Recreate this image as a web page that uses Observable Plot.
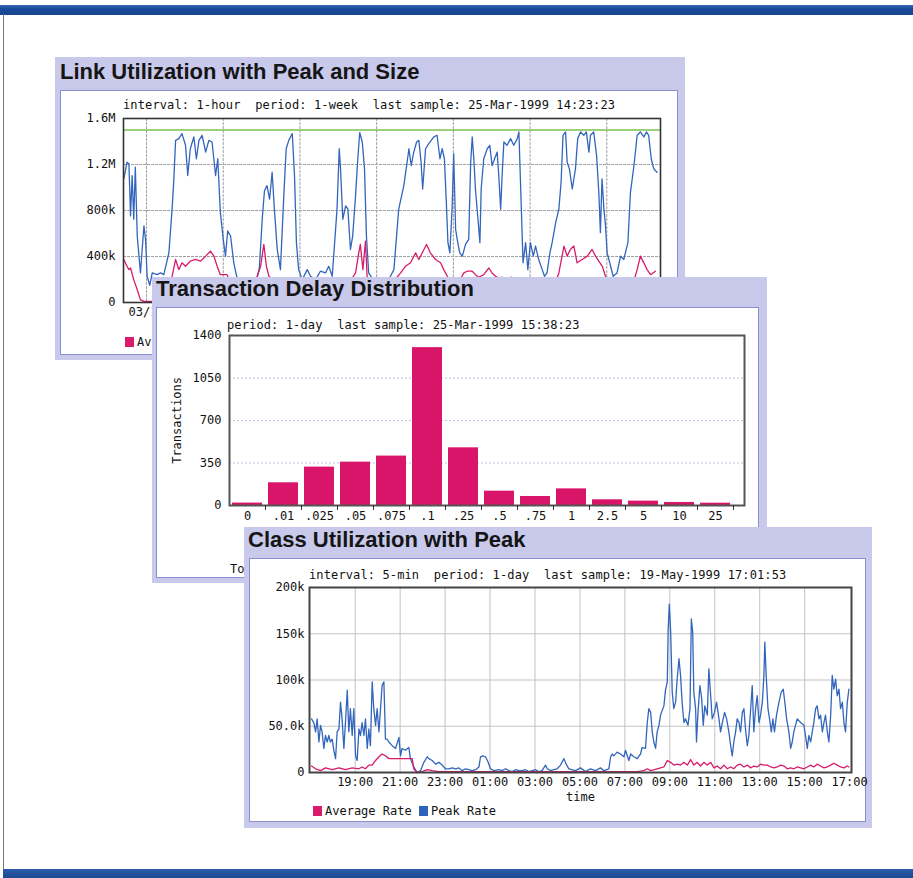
<!DOCTYPE html>
<html><head><meta charset="utf-8">
<script src="https://cdn.jsdelivr.net/npm/d3@7"></script>
<script src="https://cdn.jsdelivr.net/npm/@observablehq/plot@0.6"></script>
<style>
html,body{margin:0;padding:0;background:#fff;}
#page{position:relative;width:913px;height:878px;overflow:hidden;background:#fff;}
.bar-top{position:absolute;left:0;top:5px;width:913px;height:10px;background:linear-gradient(#3d69b6,#1b4a9c 35%,#19468f);}
.bar-bottom{position:absolute;left:3px;top:869px;width:910px;height:9px;background:linear-gradient(#2b5ca8,#1b4a92);}
.edge-left{position:absolute;left:3px;top:14px;width:1px;height:856px;background:#777;}
.panel{position:absolute;background:#c9c9ec;}
.inner{position:absolute;background:#fff;border:1.5px solid #8c8ed2;box-sizing:border-box;}
.title{position:absolute;font:bold 22px "Liberation Sans",Arial,sans-serif;color:#151515;line-height:22px;white-space:nowrap;}
.sub{position:absolute;font:12px "DejaVu Sans Mono",monospace;white-space:pre;line-height:12px;color:#111;letter-spacing:0.12px;}
.chart{position:absolute;}
.chart svg{background:transparent !important;}
.leg{position:absolute;font:12px "DejaVu Sans Mono",monospace;white-space:pre;line-height:12px;display:flex;align-items:center;color:#111;}
.sw{display:inline-block;width:9px;height:10px;margin-right:3px;}
</style></head>
<body>
<div id="page">
  <div class="bar-top"></div>
  <div class="edge-left"></div>
  <div class="bar-bottom"></div>

  <div class="panel" style="left:55px;top:57px;width:630px;height:303px;">
    <div class="inner" style="left:5px;top:33px;width:618px;height:265px;"></div>
    <div class="title" style="left:5px;top:4px;">Link Utilization with Peak and Size</div>
    <div class="chart" id="c1" style="left:5px;top:33px;"></div>
    <div class="sub" style="left:68px;top:42px;">interval: 1-hour  period: 1-week  last sample: 25-Mar-1999 14:23:23</div>
    <div class="leg" style="left:70px;top:279px;"><span class="sw" style="background:#d81b6a"></span>Average Rate</div>
  </div>

  <div class="panel" style="left:152px;top:277px;width:615px;height:306px;">
    <div class="inner" style="left:4px;top:30px;width:603px;height:271px;"></div>
    <div class="title" style="left:4px;top:1px;">Transaction Delay Distribution</div>
    <div class="chart" id="c2" style="left:4px;top:30px;"></div>
    <div class="sub" style="left:75px;top:42px;">period: 1-day  last sample: 25-Mar-1999 15:38:23</div>
    <div class="sub" style="left:78px;top:286px;">Total</div>
  </div>

  <div class="panel" style="left:244px;top:527px;width:628px;height:301px;">
    <div class="inner" style="left:5px;top:31px;width:617px;height:264px;"></div>
    <div class="title" style="left:4px;top:2px;">Class Utilization with Peak</div>
    <div class="chart" id="c3" style="left:5px;top:31px;"></div>
    <div class="sub" style="left:65px;top:42px;">interval: 5-min  period: 1-day  last sample: 19-May-1999 17:01:53</div>
    <div class="leg" style="left:69px;top:278px;"><span class="sw" style="background:#d81b6a"></span>Average Rate <span class="sw" style="background:#2d63b8"></span>Peak Rate</div>
  </div>
</div>
<script>
// ---------- Panel 1: Link Utilization (hours since start, value in k) ----------
const p1Start = "1999-03-18T16:48:00Z";
const p1End = "1999-03-25T16:48:00Z";
const p1YTicks = [0, 400, 800, 1200, 1600];
const p1YLabels = ["0", "400k", "800k", "1.2M", "1.6M"];
const p1DayTicks = ["1999-03-19","1999-03-20","1999-03-21","1999-03-22","1999-03-23","1999-03-24","1999-03-25"];
const p1Size = 1500;
const p1Peak = [[0.1,1075],[1.1,1220],[1.7,1206],[2.2,753],[2.7,1104],[3.2,724],[3.7,1177],[4.3,578],[5.3,257],[6.4,666],[6.9,549],[7.4,228],[8.2,150],[9.0,257],[10.5,242],[11.6,257],[12.6,242],[14.2,432],[15.2,812],[15.7,1045],[16.3,1410],[17.3,1425],[18.3,1469],[19.4,1367],[20.1,1104],[20.9,1337],[22.0,1440],[22.8,1250],[23.6,1410],[24.6,1454],[25.7,1308],[26.7,1410],[27.7,1396],[28.8,1104],[29.5,1250],[30.3,783],[31.2,549],[31.9,403],[32.6,622],[33.5,578],[34.5,345],[35.4,228],[36.5,150],[37.5,120],[38.5,200],[39.5,160],[40.5,130],[41.5,180],[42.5,300],[43.4,724],[44.1,972],[44.9,1016],[45.7,899],[46.5,1133],[47.2,812],[48.1,461],[49.1,286],[50.2,958],[50.9,1337],[51.7,1410],[52.8,1469],[53.5,1104],[54.1,520],[54.8,286],[55.9,199],[57.5,286],[58.5,228],[60.1,199],[61.6,272],[63.2,257],[64.2,315],[65.3,228],[66.8,812],[67.5,1337],[67.9,1162],[68.6,724],[69.5,841],[70.2,812],[71.0,461],[71.7,578],[72.6,929],[73.3,1250],[73.9,1478],[74.7,1396],[75.4,1162],[76.0,578],[76.7,257],[78.0,200],[79.0,150],[80.0,180],[81.0,140],[82.0,160],[83.5,228],[84.6,286],[86.1,812],[87.7,1016],[89.3,1337],[90.0,1191],[90.8,1308],[91.7,1396],[92.4,1410],[93.1,1220],[93.6,987],[94.5,1337],[95.5,1381],[97.1,1440],[98.1,1454],[99.0,1250],[99.7,1337],[100.4,1250],[101.0,870],[101.5,520],[102.1,432],[102.8,812],[103.3,1294],[103.9,637],[104.4,549],[105.2,432],[106.0,403],[107.0,505],[108.0,549],[108.6,1206],[109.1,1440],[109.6,1250],[110.1,987],[110.9,724],[111.5,520],[111.9,987],[112.7,1250],[113.8,1337],[114.6,1367],[115.3,1191],[116.1,1250],[116.9,1308],[117.4,1104],[118.0,812],[118.5,1133],[119.0,1396],[120.0,1367],[121.1,1425],[122.1,1367],[123.2,1425],[123.7,1483],[124.4,870],[125.0,345],[125.8,520],[126.5,286],[127.3,520],[128.2,403],[128.9,491],[129.9,374],[131.0,286],[131.7,228],[132.5,257],[133.4,432],[134.1,520],[135.2,695],[136.2,812],[136.9,1045],[137.5,1454],[138.3,1483],[138.8,1220],[139.5,1162],[140.4,987],[141.4,1162],[142.1,1425],[143.0,1483],[144.0,1454],[144.8,1483],[145.6,1308],[146.1,1454],[147.1,1483],[148.0,1279],[148.7,958],[149.2,607],[149.7,1075],[150.3,812],[150.8,666],[151.3,432],[152.4,315],[153.2,228],[154.4,257],[155.5,403],[156.5,374],[157.8,520],[158.6,958],[159.7,1191],[160.7,1454],[161.7,1483],[162.8,1440],[163.6,1483],[164.3,1454],[165.1,1250],[165.9,1162],[166.9,1133]];
const p1Avg = [[0.1,374],[1.1,315],[1.7,286],[2.2,300],[3.2,199],[4.3,111],[5.3,23],[6.4,9],[8.4,9],[9.5,10],[10.5,10],[11.5,20],[12.5,30],[13.5,60],[14.5,100],[15.2,228],[16.3,374],[17.3,286],[18.3,345],[19.4,315],[20.9,359],[22.5,374],[24.1,359],[25.7,403],[27.2,447],[28.3,403],[29.3,315],[30.3,242],[31.4,242],[32.4,242],[33.5,150],[34.5,100],[35.5,60],[36.5,40],[37.5,30],[38.5,40],[39.5,80],[40.5,150],[41.5,200],[42.9,315],[43.9,505],[44.7,315],[45.5,228],[46.5,200],[47.5,180],[48.5,150],[49.5,120],[50.5,150],[51.5,200],[52.5,210],[53.5,190],[54.5,150],[55.5,100],[56.5,60],[57.5,40],[58.5,30],[59.5,30],[60.5,40],[61.5,50],[62.5,60],[63.5,70],[64.5,80],[65.5,100],[66.5,150],[67.5,200],[68.5,190],[69.5,180],[70.5,200],[71.5,210],[72.6,257],[73.6,432],[74.1,505],[74.9,286],[75.7,534],[76.2,228],[77.0,150],[78.0,100],[79.0,60],[80.0,40],[81.0,30],[82.0,40],[83.0,60],[84.0,120],[85.0,200],[86.7,257],[88.2,315],[89.8,345],[91.4,432],[92.4,374],[94.0,461],[94.8,505],[96.0,432],[97.6,374],[99.2,345],[100.2,286],[101.3,228],[102.3,180],[103.3,150],[104.3,170],[105.3,200],[106.5,257],[107.5,272],[109.1,272],[110.1,242],[111.2,220],[112.7,242],[114.3,300],[115.3,257],[116.4,228],[117.5,210],[118.5,220],[119.5,200],[120.5,210],[121.5,220],[122.5,200],[123.5,190],[124.5,150],[125.5,100],[126.5,60],[127.5,40],[128.5,30],[129.5,30],[130.5,40],[131.5,60],[132.5,80],[133.5,120],[134.5,160],[135.5,200],[136.2,257],[136.9,359],[137.8,491],[138.8,403],[139.8,461],[140.9,491],[141.9,345],[143.5,374],[145.1,403],[146.6,461],[147.7,403],[148.7,359],[149.8,315],[150.8,228],[151.8,180],[152.8,120],[153.8,80],[154.8,50],[155.8,40],[156.8,60],[157.8,100],[158.8,150],[159.8,200],[160.7,286],[161.7,403],[162.8,345],[163.8,286],[164.9,242],[166.4,272]];

// ---------- Panel 2: Transaction Delay Distribution ----------
const delayBins = ["0", ".01", ".025", ".05", ".075", ".1", ".25", ".5", ".75", "1", "2.5", "5", "10", "25"];
const delayCounts = [20, 187, 316, 357, 407, 1300, 475, 118, 74, 137, 47, 36, 25, 19];
const p2YTicks = [0, 350, 700, 1050, 1400];

// ---------- Panel 3: Class Utilization (hours since start, value in k) ----------
const p3Start = "1999-05-18T16:58:00Z";
const p3End = "1999-05-19T17:05:00Z";
const p3XTicks = ["1999-05-18T19:00Z","1999-05-18T21:00Z","1999-05-18T23:00Z","1999-05-19T01:00Z","1999-05-19T03:00Z","1999-05-19T05:00Z","1999-05-19T07:00Z","1999-05-19T09:00Z","1999-05-19T11:00Z","1999-05-19T13:00Z","1999-05-19T15:00Z","1999-05-19T17:00Z"];
const p3YTicks = [0, 50, 100, 150, 200];
const p3YLabels = ["0", "50.0k", "100k", "150k", "200k"];
const p3Peak = [[0.09,58],[0.19,54],[0.27,44],[0.34,58],[0.42,33],[0.49,51],[0.56,44],[0.64,26],[0.71,40],[0.79,33],[0.86,40],[0.93,33],[1.01,36],[1.08,24],[1.16,15],[1.23,44],[1.31,47],[1.38,76],[1.45,58],[1.53,26],[1.60,54],[1.68,89],[1.75,44],[1.82,69],[1.90,40],[1.97,69],[2.05,18],[2.12,13],[2.20,47],[2.27,40],[2.34,54],[2.42,40],[2.49,58],[2.57,26],[2.64,47],[2.71,29],[2.79,98],[2.86,69],[2.94,51],[3.01,69],[3.09,44],[3.16,69],[3.23,94],[3.31,98],[3.38,36],[3.46,36],[3.53,33],[3.68,29],[3.83,26],[3.98,38],[4.05,18],[4.12,26],[4.27,24],[4.42,27],[4.49,15],[4.64,6],[4.79,0],[4.94,2],[5.09,11],[5.24,17],[5.31,15],[5.46,13],[5.61,9],[5.76,11],[5.90,8],[6.05,4],[6.20,4],[6.35,5],[6.50,4],[6.65,5],[6.79,2],[6.94,4],[7.09,3],[7.24,2],[7.39,3],[7.54,6],[7.61,17],[7.71,18],[7.83,17],[7.95,11],[8.05,4],[8.20,2],[8.43,3],[8.57,2],[8.72,4],[8.87,2],[9.02,1],[9.17,3],[9.32,2],[9.46,2],[9.61,3],[9.76,1],[9.91,2],[10.06,3],[10.21,1],[10.35,2],[10.50,8],[10.58,4],[10.73,2],[10.87,3],[11.02,4],[11.17,8],[11.32,15],[11.42,9],[11.54,4],[11.84,2],[12.06,5],[12.28,1],[12.50,4],[12.73,2],[12.95,5],[13.10,2],[13.32,4],[13.40,17],[13.47,20],[13.54,18],[13.69,22],[13.84,20],[13.99,17],[14.06,24],[14.21,13],[14.29,20],[14.43,17],[14.58,15],[14.73,20],[14.80,27],[14.95,26],[15.03,54],[15.10,69],[15.18,65],[15.25,44],[15.32,33],[15.40,26],[15.47,44],[15.55,51],[15.62,62],[15.77,72],[15.84,89],[15.92,98],[15.96,155],[16.01,182],[16.07,152],[16.14,87],[16.21,69],[16.29,76],[16.36,101],[16.44,123],[16.51,105],[16.58,76],[16.66,54],[16.73,58],[16.84,51],[16.93,69],[16.99,166],[17.05,152],[17.10,87],[17.18,69],[17.22,33],[17.28,62],[17.37,94],[17.45,80],[17.52,51],[17.59,72],[17.70,62],[17.77,112],[17.85,83],[17.92,58],[18.02,65],[18.11,76],[18.22,58],[18.29,44],[18.37,54],[18.47,65],[18.56,58],[18.66,44],[18.74,29],[18.81,18],[18.88,33],[18.96,44],[19.03,58],[19.11,54],[19.18,44],[19.26,65],[19.33,69],[19.40,47],[19.48,29],[19.55,40],[19.63,69],[19.70,94],[19.77,44],[19.85,69],[19.92,83],[20.00,54],[20.07,62],[20.15,76],[20.22,105],[20.26,141],[20.32,105],[20.40,69],[20.47,58],[20.55,44],[20.62,58],[20.69,44],[20.78,62],[20.89,76],[20.99,87],[21.08,90],[21.15,76],[21.23,58],[21.33,44],[21.41,26],[21.48,33],[21.55,44],[21.70,58],[21.85,54],[22.00,51],[22.07,40],[22.15,26],[22.22,40],[22.30,33],[22.37,44],[22.44,54],[22.52,69],[22.59,72],[22.67,58],[22.74,62],[22.82,44],[22.89,54],[22.96,62],[23.04,44],[23.11,33],[23.19,62],[23.26,105],[23.33,90],[23.41,101],[23.48,83],[23.56,90],[23.63,69],[23.71,76],[23.78,54],[23.85,44],[23.93,76],[24.00,90]];
const p3Avg = [[0.09,7],[0.27,4],[0.49,2],[0.71,5],[1.01,3],[1.31,5],[1.60,3],[1.90,5],[2.20,4],[2.34,6],[2.49,4],[2.64,8],[2.79,8],[2.94,13],[3.09,17],[3.23,20],[3.38,18],[3.53,15],[3.83,15],[4.12,15],[4.42,15],[4.57,15],[4.64,4],[4.79,0],[5.01,1],[5.24,3],[5.46,2],[5.76,1],[7.0,1],[8.5,1],[10.0,1],[11.62,1],[13.10,1],[14.58,1],[14.88,2],[15.03,4],[15.18,2],[15.47,4],[15.77,6],[15.92,13],[16.07,11],[16.21,8],[16.36,9],[16.51,8],[16.66,11],[16.81,8],[16.96,14],[17.10,8],[17.25,11],[17.40,7],[17.55,11],[17.70,8],[17.85,11],[18.00,5],[18.14,7],[18.29,4],[18.44,8],[18.59,4],[18.74,6],[18.88,4],[19.03,8],[19.18,9],[19.33,6],[19.48,8],[19.63,5],[19.77,7],[19.92,6],[20.07,9],[20.22,8],[20.37,8],[20.52,6],[20.67,5],[20.81,6],[20.96,8],[21.11,7],[21.26,4],[21.41,5],[21.55,4],[21.70,6],[21.85,5],[22.00,4],[22.15,6],[22.30,8],[22.44,6],[22.59,9],[22.74,7],[22.89,5],[23.04,6],[23.19,8],[23.33,10],[23.48,8],[23.63,6],[23.78,5],[23.93,7],[24.00,6]];

// ---------- colours ----------
const PINK = "#d81b6a", BLUE = "#3266bd", GREEN = "#7dc04f", BAR = "#d9156a";
const FONT = {fontFamily: "'DejaVu Sans Mono', monospace", fontSize: "12px", color: "#111", background: "transparent", overflow: "visible"};

const at = (start, h) => new Date(+new Date(start) + h * 3600000);
const fmtMap = (ticks, labels) => { const m = new Map(ticks.map((t, i) => [t, labels[i]])); return d => m.get(d); };

// Panel 1
const c1 = Plot.plot({
  width: 618, height: 265, marginLeft: 63, marginRight: 18, marginTop: 28, marginBottom: 53,
  style: FONT,
  x: {type: "utc", domain: [new Date(p1Start), new Date(p1End)]},
  y: {domain: [0, 1600]},
  marks: [
    Plot.gridX(p1DayTicks.map(d => new Date(d)), {stroke: "#a0a0a0", strokeOpacity: 1, strokeDasharray: "3,1"}),
    Plot.gridY(p1YTicks.slice(1, -1), {stroke: "#a0a0a0", strokeOpacity: 1, strokeDasharray: "3,1"}),
    Plot.ruleY([p1Size], {stroke: GREEN, strokeWidth: 1.6}),
    Plot.line(p1Peak, {x: d => at(p1Start, d[0]), y: d => d[1], stroke: BLUE, strokeWidth: 1.3}),
    Plot.line(p1Avg, {x: d => at(p1Start, d[0]), y: d => d[1], stroke: PINK, strokeWidth: 1.3}),
    Plot.frame({stroke: "#333", strokeWidth: 1.6}),
    Plot.axisY(p1YTicks, {tickSize: 0, tickPadding: 8, tickFormat: fmtMap(p1YTicks, p1YLabels), label: null}),
    Plot.axisX(p1DayTicks.slice(0, 1).map(d => new Date(d)), {tickSize: 0, tickPadding: 5, tickFormat: d3.utcFormat("%m/%d"), label: null})
  ]
});
document.getElementById("c1").append(c1);

// Panel 2
const c2 = Plot.plot({
  width: 603, height: 271, marginLeft: 73, marginRight: 15, marginTop: 28, marginBottom: 73,
  style: FONT,
  x: {type: "band", domain: delayBins, insetRight: 11, paddingInner: 0.18, paddingOuter: 0.09},
  y: {domain: [0, 1400]},
  marks: [
    Plot.gridY(p2YTicks.slice(1, -1), {stroke: "#bcc0e2", strokeOpacity: 1, strokeDasharray: "2,2"}),
    Plot.barY(delayBins, {x: d => d, y: (d, i) => delayCounts[i], fill: BAR}),
    Plot.frame({stroke: "#555", strokeWidth: 2}),
    Plot.axisY(p2YTicks, {tickSize: 0, tickPadding: 8, tickFormat: d => String(d), label: "Transactions", labelAnchor: "center", labelOffset: 57, labelArrow: "none"}),
    Plot.axisX({tickSize: 0, tickPadding: 6, label: null}),
    Plot.axisX({tickSize: 5, tickFormat: () => "", dx: 18, label: null, stroke: "#333"})
  ]
});
document.getElementById("c2").append(c2);

// Panel 3
const p3TickDates = p3XTicks.map(d => new Date(d));
const c3 = Plot.plot({
  width: 617, height: 264, marginLeft: 60, marginRight: 15, marginTop: 29, marginBottom: 50,
  style: FONT,
  x: {type: "utc", domain: [new Date(p3Start), new Date(p3End)]},
  y: {domain: [0, 200]},
  marks: [
    Plot.gridX(p3TickDates.slice(0, -1), {stroke: "#c2c2c2", strokeOpacity: 1}),
    Plot.gridY(p3YTicks.slice(1, -1), {stroke: "#c2c2c2", strokeOpacity: 1}),
    Plot.line(p3Peak, {x: d => at(p3Start, d[0]), y: d => d[1], stroke: BLUE, strokeWidth: 1.3}),
    Plot.line(p3Avg, {x: d => at(p3Start, d[0]), y: d => d[1], stroke: PINK, strokeWidth: 1.3}),
    Plot.frame({stroke: "#444", strokeWidth: 2}),
    Plot.axisY(p3YTicks, {tickSize: 0, tickPadding: 5, tickFormat: fmtMap(p3YTicks, p3YLabels), label: null}),
    Plot.axisX(p3TickDates, {tickSize: 0, tickPadding: 5, tickFormat: d3.utcFormat("%H:%M"), label: "time", labelAnchor: "center", labelOffset: 28, labelArrow: "none"})
  ]
});
document.getElementById("c3").append(c3);
</script>
</body></html>
